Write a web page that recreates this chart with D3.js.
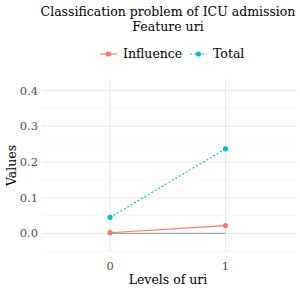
<!DOCTYPE html>
<html>
<head>
<meta charset="utf-8">
<script src="https://cdn.jsdelivr.net/npm/d3@7"></script>
<style>
  body { margin: 0; background: #fff; }
</style>
</head>
<body>
<div id="chart"></div>
<script>
// data
var levels = [0, 1];
var influence = [0.002, 0.022];
var total = [0.045, 0.237];
var baseline = [0, 0];
var yTicks = [0.0, 0.1, 0.2, 0.3, 0.4];
var yMinor = [-0.05, 0.05, 0.15, 0.25, 0.35];

var width = 300, height = 293;
var margin = { top: 79, right: 3, bottom: 41, left: 42 };

var red = "#F8766D", cyan = "#00BFC4";
var serif = "'DejaVu Serif', 'Liberation Serif', serif";

var svg = d3.select("#chart")
    .append("svg")
    .attr("width", width)
    .attr("height", height)
    .style("font-family", serif);

var x = d3.scaleLinear()
    .domain([-0.59, 1.62])
    .range([margin.left, width - margin.right]);

var y = d3.scaleLinear()
    .domain([-0.052, 0.4325])
    .range([height - margin.bottom, margin.top]);

// grid
svg.selectAll(".minor")
    .data(yMinor)
    .enter()
    .append("line")
    .attr("x1", x.range()[0]).attr("x2", x.range()[1])
    .attr("y1", function (d) { return y(d); })
    .attr("y2", function (d) { return y(d); })
    .attr("stroke", "#f3f3f3")
    .attr("stroke-width", 0.6);

svg.selectAll(".major")
    .data(yTicks)
    .enter()
    .append("line")
    .attr("x1", x.range()[0]).attr("x2", x.range()[1])
    .attr("y1", function (d) { return y(d); })
    .attr("y2", function (d) { return y(d); })
    .attr("stroke", "#ebebeb")
    .attr("stroke-width", 1.1);

svg.selectAll(".vgrid")
    .data(levels)
    .enter()
    .append("line")
    .attr("x1", function (d) { return x(d); })
    .attr("x2", function (d) { return x(d); })
    .attr("y1", y.range()[0]).attr("y2", y.range()[1])
    .attr("stroke", "#ebebeb")
    .attr("stroke-width", 1.1);

// axes labels
svg.selectAll(".ytick")
    .data(yTicks)
    .enter()
    .append("text")
    .attr("x", margin.left - 4)
    .attr("y", function (d) { return y(d); })
    .attr("dy", "0.35em")
    .attr("text-anchor", "end")
    .attr("font-size", 11.5)
    .attr("fill", "#4d4d4d")
    .text(function (d) { return d3.format(".1f")(d); });

svg.selectAll(".xtick")
    .data(levels)
    .enter()
    .append("text")
    .attr("x", function (d) { return x(d); })
    .attr("y", height - margin.bottom + 18)
    .attr("text-anchor", "middle")
    .attr("font-size", 11.5)
    .attr("fill", "#4d4d4d")
    .text(function (d) { return d; });

var line = d3.line()
    .x(function (d, i) { return x(levels[i]); })
    .y(function (d) { return y(d); });

// baseline
svg.append("path")
    .attr("d", line(baseline))
    .attr("fill", "none")
    .attr("stroke", "#a6a6a6")
    .attr("stroke-width", 1.3);

svg.append("path")
    .attr("d", line(influence))
    .attr("fill", "none")
    .attr("stroke", red)
    .attr("stroke-width", 1.1);

svg.append("path")
    .attr("d", line(total))
    .attr("fill", "none")
    .attr("stroke", cyan)
    .attr("stroke-width", 1.1)
    .attr("stroke-dasharray", "2,2");

svg.selectAll(".pInf")
    .data(influence)
    .enter()
    .append("circle")
    .attr("cx", function (d, i) { return x(levels[i]); })
    .attr("cy", function (d) { return y(d); })
    .attr("r", 2.6)
    .attr("fill", red);

svg.selectAll(".pTot")
    .data(total)
    .enter()
    .append("circle")
    .attr("cx", function (d, i) { return x(levels[i]); })
    .attr("cy", function (d) { return y(d); })
    .attr("r", 2.6)
    .attr("fill", cyan);

// titles
var cx = 168;
svg.append("text")
    .attr("x", cx).attr("y", 16)
    .attr("text-anchor", "middle")
    .attr("font-size", 12.5)
    .text("Classification problem of ICU admission");
svg.append("text")
    .attr("x", cx).attr("y", 31)
    .attr("text-anchor", "middle")
    .attr("font-size", 12.5)
    .text("Feature uri");

svg.append("text")
    .attr("x", cx).attr("y", 284)
    .attr("text-anchor", "middle")
    .attr("font-size", 12.5)
    .text("Levels of uri");

svg.append("text")
    .attr("transform", "translate(16," + ((y.range()[0] + y.range()[1]) / 2) + ") rotate(-90)")
    .attr("text-anchor", "middle")
    .attr("font-size", 12.5)
    .text("Values");

// legend
var legend = [
    { name: "Influence", color: red, dash: null, x: 100 },
    { name: "Total", color: cyan, dash: "2,2", x: 190 }
];
var lg = svg.selectAll(".lg")
    .data(legend)
    .enter()
    .append("g")
    .attr("transform", function (d) { return "translate(" + d.x + ",54)"; });
lg.append("line")
    .attr("x1", 0).attr("x2", 17)
    .attr("stroke", function (d) { return d.color; })
    .attr("stroke-width", 1.1)
    .attr("stroke-dasharray", function (d) { return d.dash; });
lg.append("circle")
    .attr("cx", 8.5).attr("r", 2.6)
    .attr("fill", function (d) { return d.color; });
lg.append("text")
    .attr("x", 23)
    .attr("dy", "0.35em")
    .attr("font-size", 12.5)
    .text(function (d) { return d.name; });
</script>
</body>
</html>
